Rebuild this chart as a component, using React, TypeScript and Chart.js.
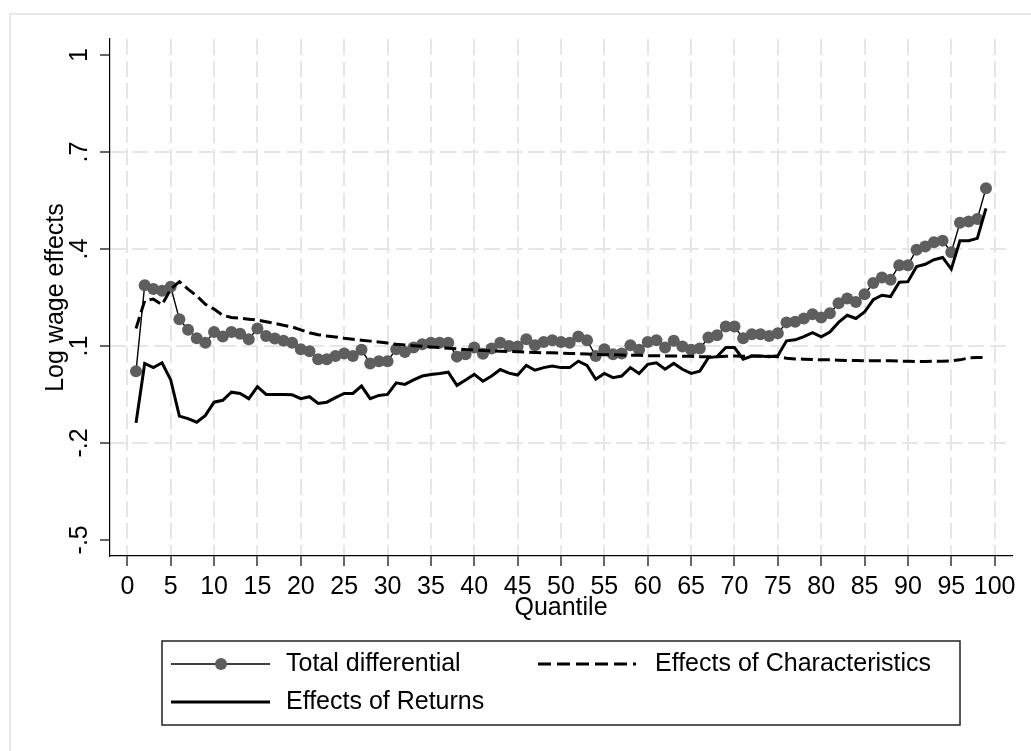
import React, { useEffect, useRef } from "react";
import { Chart, registerables } from "chart.js";

Chart.register(...registerables);

// ---------------- data ----------------
const quantiles = [
  1, 2, 3, 4, 5, 6, 7, 8, 9, 10, 11, 12, 13, 14, 15, 16, 17, 18, 19, 20,
  21, 22, 23, 24, 25, 26, 27, 28, 29, 30, 31, 32, 33, 34, 35, 36, 37, 38, 39, 40,
  41, 42, 43, 44, 45, 46, 47, 48, 49, 50, 51, 52, 53, 54, 55, 56, 57, 58, 59, 60,
  61, 62, 63, 64, 65, 66, 67, 68, 69, 70, 71, 72, 73, 74, 75, 76, 77, 78, 79, 80,
  81, 82, 83, 84, 85, 86, 87, 88, 89, 90, 91, 92, 93, 94, 95, 96, 97, 98, 99,
];

const totalDifferential = [
  0.022, 0.288, 0.276, 0.271, 0.283, 0.183, 0.150, 0.124, 0.110, 0.143,
  0.129, 0.143, 0.138, 0.121, 0.154, 0.131, 0.123, 0.116, 0.110, 0.090,
  0.084, 0.059, 0.059, 0.069, 0.077, 0.069, 0.088, 0.046, 0.053, 0.053,
  0.090, 0.081, 0.095, 0.105, 0.110, 0.110, 0.110, 0.067, 0.074, 0.095,
  0.076, 0.092, 0.110, 0.100, 0.098, 0.121, 0.102, 0.112, 0.118, 0.112,
  0.110, 0.129, 0.118, 0.069, 0.090, 0.074, 0.077, 0.102, 0.088, 0.112,
  0.118, 0.095, 0.116, 0.098, 0.088, 0.092, 0.126, 0.133, 0.160, 0.160,
  0.124, 0.136, 0.136, 0.131, 0.139, 0.173, 0.175, 0.185, 0.198, 0.188,
  0.201, 0.232, 0.247, 0.236, 0.260, 0.295, 0.312, 0.305, 0.350, 0.350,
  0.398, 0.408, 0.421, 0.426, 0.390, 0.481, 0.485, 0.493, 0.588,
];

const effectsCharacteristics = [
  0.154, 0.240, 0.245, 0.228, 0.276, 0.299, 0.276, 0.255, 0.229, 0.214,
  0.195, 0.188, 0.186, 0.183, 0.180, 0.175, 0.170, 0.164, 0.159, 0.150,
  0.141, 0.135, 0.131, 0.128, 0.124, 0.121, 0.118, 0.115, 0.112, 0.109,
  0.105, 0.103, 0.101, 0.099, 0.097, 0.095, 0.093, 0.091, 0.089, 0.088,
  0.086, 0.085, 0.084, 0.083, 0.082, 0.081, 0.080, 0.079, 0.079, 0.078,
  0.077, 0.076, 0.075, 0.074, 0.073, 0.073, 0.072, 0.071, 0.071, 0.070,
  0.070, 0.069, 0.069, 0.068, 0.068, 0.067, 0.067, 0.067, 0.068, 0.069,
  0.068, 0.069, 0.068, 0.068, 0.067, 0.062, 0.060, 0.059, 0.058, 0.057,
  0.057, 0.056, 0.055, 0.055, 0.054, 0.054, 0.054, 0.054, 0.053, 0.053,
  0.052, 0.052, 0.053, 0.053, 0.054, 0.057, 0.063, 0.064, 0.064,
];

const effectsReturns = [
  -0.138, 0.046, 0.033, 0.048, -0.005, -0.117, -0.125, -0.136, -0.115, -0.074,
  -0.068, -0.043, -0.047, -0.063, -0.026, -0.050, -0.050, -0.050, -0.051, -0.063,
  -0.057, -0.078, -0.074, -0.060, -0.047, -0.047, -0.024, -0.063, -0.053, -0.050,
  -0.014, -0.019, -0.005, 0.007, 0.012, 0.015, 0.019, -0.022, -0.005, 0.012,
  -0.009, 0.007, 0.027, 0.016, 0.010, 0.040, 0.025, 0.033, 0.038, 0.033,
  0.033, 0.053, 0.040, -0.003, 0.015, 0.002, 0.007, 0.033, 0.015, 0.043,
  0.048, 0.028, 0.046, 0.028, 0.015, 0.022, 0.064, 0.067, 0.095, 0.095,
  0.059, 0.069, 0.069, 0.067, 0.070, 0.116, 0.119, 0.129, 0.141, 0.128,
  0.143, 0.173, 0.195, 0.185, 0.205, 0.243, 0.257, 0.253, 0.297, 0.299,
  0.346, 0.353, 0.367, 0.374, 0.338, 0.426, 0.426, 0.433, 0.526,
];

const xTickValues = [0, 5, 10, 15, 20, 25, 30, 35, 40, 45, 50, 55, 60, 65, 70, 75, 80, 85, 90, 95, 100];
const yTickValues = [-0.5, -0.2, 0.1, 0.4, 0.7, 1];
const yTickLabels = ["-.5", "-.2", ".1", ".4", ".7", "1"];
const yGridHidden = [-0.5, 1];

const seriesNames = ["Total differential", "Effects of Characteristics", "Effects of Returns"];
const xTitle = "Quantile";
const yTitle = "Log wage effects";

// ---------------- styling ----------------
const FONT = '"Liberation Sans", Arial, Helvetica, sans-serif';
const FS = 25;
const GRID = "#e6e6e6";
const DOT = "#5e5e5e";

const toPoints = (ys: number[]) => ys.map((y, i) => ({ x: quantiles[i], y }));

export default function App() {
  const ref = useRef<HTMLCanvasElement>(null);

  useEffect(() => {
    const canvas = ref.current;
    if (!canvas) return;

    const decorPlugin = {
      id: "decor",
      beforeDraw(chart: any) {
        const ctx = chart.ctx as CanvasRenderingContext2D;
        ctx.save();
        ctx.fillStyle = "#ffffff";
        ctx.fillRect(0, 0, chart.width, chart.height);
        ctx.strokeStyle = "#e8e8e8";
        ctx.lineWidth = 2;
        ctx.strokeRect(10, 14, chart.width + 40, chart.height + 40);
        ctx.restore();
      },
      afterDraw(chart: any) {
        const ctx = chart.ctx as CanvasRenderingContext2D;
        ctx.save();
        // legend box
        ctx.strokeStyle = "#222";
        ctx.lineWidth = 1.5;
        ctx.strokeRect(162, 641, 798, 84);
        ctx.font = `${FS}px ${FONT}`;
        ctx.fillStyle = "#000";
        ctx.textBaseline = "middle";
        ctx.textAlign = "left";
        const r1 = 664;
        const r2 = 702;
        // Total differential
        ctx.strokeStyle = "#000";
        ctx.lineWidth = 1.5;
        ctx.setLineDash([]);
        ctx.beginPath();
        ctx.moveTo(171, r1);
        ctx.lineTo(270, r1);
        ctx.stroke();
        ctx.fillStyle = DOT;
        ctx.beginPath();
        ctx.arc(221, r1, 6, 0, Math.PI * 2);
        ctx.fill();
        ctx.fillStyle = "#000";
        ctx.fillText(seriesNames[0], 286, r1);
        // Characteristics
        ctx.lineWidth = 3;
        ctx.setLineDash([13, 6]);
        ctx.beginPath();
        ctx.moveTo(538, r1);
        ctx.lineTo(636, r1);
        ctx.stroke();
        ctx.setLineDash([]);
        ctx.fillText(seriesNames[1], 655, r1);
        // Returns
        ctx.lineWidth = 3;
        ctx.beginPath();
        ctx.moveTo(171, r2);
        ctx.lineTo(270, r2);
        ctx.stroke();
        ctx.fillText(seriesNames[2], 286, r2);
        ctx.restore();
      },
    };

    const chart = new Chart(canvas, {
      type: "line",
      data: {
        datasets: [
          {
            label: seriesNames[0],
            data: toPoints(totalDifferential),
            borderColor: "#000",
            borderWidth: 1.4,
            pointRadius: 6,
            pointBackgroundColor: DOT,
            pointBorderWidth: 0,
            pointBorderColor: DOT,
            fill: false,
            order: 3,
          },
          {
            label: seriesNames[1],
            data: toPoints(effectsCharacteristics),
            borderColor: "#000",
            borderWidth: 3,
            borderDash: [12, 5],
            pointRadius: 0,
            fill: false,
            order: 2,
          },
          {
            label: seriesNames[2],
            data: toPoints(effectsReturns),
            borderColor: "#000",
            borderWidth: 3,
            pointRadius: 0,
            fill: false,
            order: 1,
          },
        ],
      },
      options: {
        responsive: false,
        maintainAspectRatio: false,
        devicePixelRatio: 1,
        animation: false,
        events: [],
        layout: { padding: { left: 0, top: 39, right: 19, bottom: 128 } },
        plugins: {
          legend: { display: false },
          tooltip: { enabled: false },
        },
        scales: {
          x: {
            type: "linear",
            min: -2,
            max: 102,
            afterBuildTicks: (scale: any) => {
              scale.ticks = xTickValues.map((value) => ({ value }));
            },
            afterFit: (scale: any) => {
              scale.height = 67;
            },
            ticks: {
              autoSkip: false,
              maxRotation: 0,
              minRotation: 0,
              padding: 6,
              color: "#000",
              font: { family: FONT, size: FS },
              callback: (value: any) => String(value),
            },
            grid: {
              color: GRID,
              lineWidth: 2,
              tickColor: "#000",
              tickLength: 10,
              tickWidth: 1.2,
            },
            border: { display: true, color: "#000", width: 1.2, dash: [16, 6] },
            title: {
              display: true,
              text: xTitle,
              color: "#000",
              font: { family: FONT, size: FS },
              padding: { top: 0, bottom: 0 },
            },
          },
          y: {
            type: "linear",
            min: -0.55,
            max: 1.05,
            afterBuildTicks: (scale: any) => {
              scale.ticks = yTickValues.map((value) => ({ value }));
            },
            afterFit: (scale: any) => {
              scale.width = 110;
            },
            ticks: {
              autoSkip: false,
              minRotation: 90,
              maxRotation: 90,
              crossAlign: "center",
              padding: 5,
              color: "#000",
              font: { family: FONT, size: FS },
              callback: (value: any) => {
                const i = yTickValues.findIndex((v) => Math.abs(v - value) < 1e-9);
                return i >= 0 ? yTickLabels[i] : "";
              },
            },
            grid: {
              color: (ctx: any) =>
                ctx.tick && yGridHidden.some((v) => Math.abs(v - ctx.tick.value) < 1e-9)
                  ? "rgba(0,0,0,0)"
                  : GRID,
              lineWidth: 2,
              tickColor: "#000",
              tickLength: 10,
              tickWidth: 1.2,
            },
            border: { display: true, color: "#000", width: 1.2, dash: [16, 6] },
            title: {
              display: true,
              text: yTitle,
              color: "#000",
              font: { family: FONT, size: FS },
              padding: { top: 41, bottom: 0 },
            },
          },
        },
      },
      plugins: [decorPlugin],
    } as any);

    return () => chart.destroy();
  }, []);

  return (
    <div
      style={{
        position: "fixed",
        left: 0,
        top: 0,
        width: 1031,
        height: 751,
        background: "#fff",
      }}
    >
      <canvas ref={ref} width={1031} height={751} style={{ display: "block" }} />
    </div>
  );
}
